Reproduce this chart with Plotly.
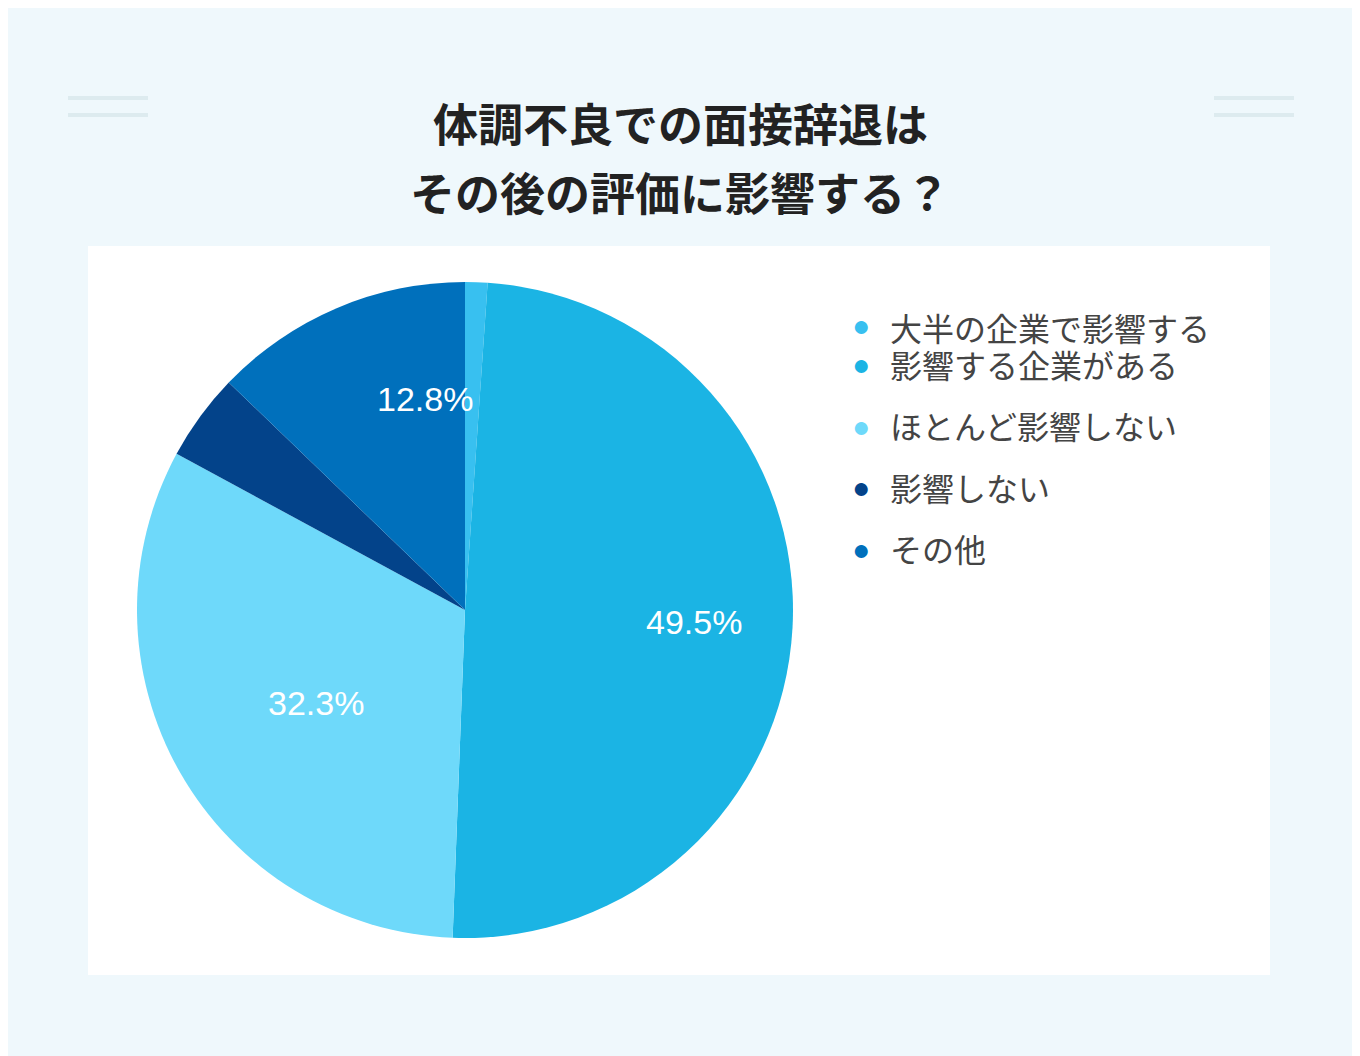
import math
import plotly.graph_objects as go

labels = ["大半の企業で影響する", "影響する企業がある", "ほとんど影響しない", "影響しない", "その他"]
values = [1.1, 49.5, 32.3, 4.3, 12.8]
colors = ["#38C0F0", "#1BB4E4", "#6ED9FA", "#03438A", "#0070BC"]
shown = [False, True, True, False, True]

W, H = 1360, 1056
OFF = 8  # page margin offset in the screenshot


def px(x):
    return (x - OFF) / W


def py(y):
    return 1 - (y - OFF) / H


cx, cy, r = 465, 610, 328

fig = go.Figure()
fig.add_trace(go.Pie(
    labels=labels, values=values, sort=False, direction="clockwise", rotation=0,
    marker=dict(colors=colors, line=dict(color="#ffffff", width=0)),
    textinfo="none", showlegend=False, hoverinfo="label+percent",
    domain=dict(x=[px(cx - r), px(cx + r)], y=[py(cy + r), py(cy - r)]),
))

shapes = [dict(type="rect", xref="paper", yref="paper", x0=px(88), x1=px(1270),
               y0=py(975), y1=py(246), fillcolor="white", line=dict(width=0), layer="below")]
for x0, x1 in [(68, 148), (1214, 1294)]:
    for y in [98, 115]:
        shapes.append(dict(type="line", xref="paper", yref="paper", x0=px(x0), x1=px(x1),
                           y0=py(y), y1=py(y), line=dict(color="#DDEBEF", width=4)))

annotations = [
    dict(text="<b>体調不良での面接辞退は</b>", x=px(680), y=py(88)),
    dict(text="<b>その後の評価に影響する？</b>", x=px(680), y=py(157)),
]
for a in annotations:
    a.update(xref="paper", yref="paper", showarrow=False,
             font=dict(size=45, color="#222222", family="Noto Sans CJK JP"))

# percentage labels at 0.7 radius, mid-angle of each slice
total = sum(values)
acc = 0
for v, s in zip(values, shown):
    mid = (acc + v / 2) / total * 2 * math.pi
    acc += v
    if not s:
        continue
    lx = cx + 0.7 * r * math.sin(mid)
    ly = cy - 0.7 * r * math.cos(mid)
    annotations.append(dict(text=f"{v:.1f}%", xref="paper", yref="paper", x=px(lx), y=py(ly),
                            showarrow=False, font=dict(size=34, color="white", family="Liberation Sans")))

# legend
for i, (lab, c) in enumerate(zip(labels, colors)):
    y = 302 + i * 61.5
    annotations.append(dict(text="●", xref="paper", yref="paper", x=px(861), y=py(y),
                            showarrow=False, font=dict(size=30, color=c)))
    annotations.append(dict(text=lab, xref="paper", yref="paper", x=px(888), y=py(y), xanchor="left",
                            showarrow=False, font=dict(size=32, color="#444444", family="Noto Sans CJK JP")))

fig.update_layout(
    width=W, height=H, margin=dict(l=0, r=0, t=0, b=0),
    paper_bgcolor="#EFF8FC", plot_bgcolor="#EFF8FC",
    shapes=shapes, annotations=annotations,
)

fig.write_html("out.html")
